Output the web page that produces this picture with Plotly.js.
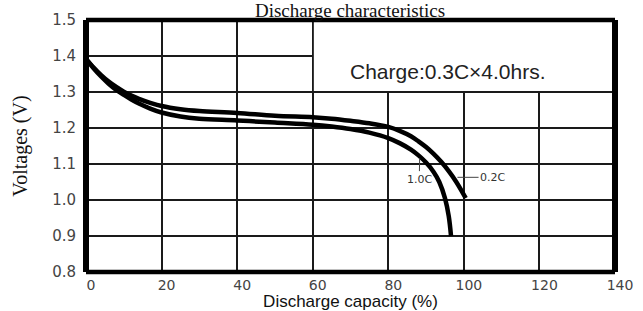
<!DOCTYPE html>
<html>
<head>
<meta charset="utf-8">
<script src="https://cdn.plot.ly/plotly-3.0.1.min.js"></script>
<style>
  html, body { margin: 0; padding: 0; background: #fff; }
  #chart { width: 643px; height: 311px; }
</style>
</head>
<body>
<div id="chart"></div>
<script>
// Discharge capacity (%) and cell voltage (V)
const cap02C = [0, 2, 4, 6, 8, 10, 12, 14, 17, 20, 25, 30, 40, 50, 60, 65, 70, 75, 80, 83, 86, 88, 90, 92, 94, 96, 98, 100.5];
const volt02C = [1.392, 1.368, 1.347, 1.329, 1.314, 1.301, 1.290, 1.281, 1.270, 1.261, 1.252, 1.247, 1.242, 1.234, 1.230, 1.226, 1.220, 1.213, 1.203, 1.192, 1.177, 1.163, 1.147, 1.128, 1.106, 1.080, 1.050, 1.005];

const cap10C = [0, 2, 4, 6, 8, 10, 12, 14, 17, 20, 25, 30, 40, 50, 60, 65, 70, 75, 80, 83, 86, 88, 90, 92, 93.5, 95, 96, 96.6];
const volt10C = [1.392, 1.366, 1.343, 1.323, 1.306, 1.292, 1.279, 1.268, 1.254, 1.243, 1.232, 1.226, 1.221, 1.215, 1.209, 1.204, 1.197, 1.187, 1.172, 1.158, 1.140, 1.124, 1.104, 1.078, 1.050, 1.005, 0.955, 0.900];

const xTicks = [0, 20, 40, 60, 80, 100, 120, 140];
const yTicks = [0.8, 0.9, 1.0, 1.1, 1.2, 1.3, 1.4, 1.5];
const yTickText = ['0.8', '0.9', '1.0', '1.1', '1.2', '1.3', '1.4', '1.5'];

const seriesNames = ['0.2C', '1.0C'];
const chargeNote = 'Charge:0.3C×4.0hrs.';

const traces = [
  { x: cap02C, y: volt02C, name: seriesNames[0], mode: 'lines',
    line: { color: '#000', width: 4.5, shape: 'spline', smoothing: 1 } },
  { x: cap10C, y: volt10C, name: seriesNames[1], mode: 'lines',
    line: { color: '#000', width: 4.5, shape: 'spline', smoothing: 1 } }
];

const frameLine = (x0, y0, x1, y1, w) => ({
  type: 'line', xref: 'paper', yref: 'paper', x0, y0, x1, y1,
  line: { color: '#000', width: w }, layer: 'above'
});

const layout = {
  width: 643, height: 311,
  margin: { l: 86, r: 28, t: 20, b: 39, pad: 0 },
  paper_bgcolor: '#fff', plot_bgcolor: '#fff',
  showlegend: false,
  title: {
    text: 'Discharge characteristics',
    font: { family: 'Liberation Serif, Times New Roman, serif', size: 19, color: '#111' },
    xref: 'container', yref: 'container', x: 350 / 643, xanchor: 'center',
    y: 1 - 16.5 / 311, yanchor: 'bottom'
  },
  xaxis: {
    range: [0, 140], tickvals: xTicks, ticktext: xTicks.map(String),
    showgrid: true, gridcolor: '#1a1a1a', gridwidth: 2, zeroline: false,
    showline: false, ticks: '', ticklabelstandoff: 3, ticklabelshift: 5,
    tickfont: { family: 'DejaVu Sans, Verdana, sans-serif', size: 14, color: '#444' },
    title: { text: 'Discharge capacity (%)', standoff: 3,
      font: { family: 'Liberation Sans, Arial, sans-serif', size: 17, color: '#111' } },
    fixedrange: true
  },
  yaxis: {
    range: [0.8, 1.5], tickvals: yTicks, ticktext: yTickText,
    showgrid: true, gridcolor: '#1a1a1a', gridwidth: 1.5, zeroline: false,
    showline: false, ticks: '', ticklabelstandoff: 9,
    tickfont: { family: 'DejaVu Sans, Verdana, sans-serif', size: 15, color: '#444' },
    title: { text: 'Voltages (V)', standoff: 19,
      font: { family: 'Liberation Serif, Times New Roman, serif', size: 20, color: '#111' } },
    fixedrange: true
  },
  shapes: [
    { type: 'rect', xref: 'x', yref: 'y', x0: 60.3, x1: 140, y0: 1.303, y1: 1.5,
      fillcolor: '#fff', line: { width: 0 }, layer: 'above' },
    frameLine(0, 0, 0, 1, 6),
    frameLine(1, 0, 1, 1, 6),
    frameLine(0, 1, 1, 1, 4.5),
    frameLine(0, 0, 1, 0, 4.5)
  ],
  annotations: [
    { x: 95.7, y: 1.356, xref: 'x', yref: 'y', text: chargeNote, showarrow: false,
      font: { family: 'Liberation Sans, Arial, sans-serif', size: 21, color: '#222' } },
    { x: 88.3, y: 1.116, xref: 'x', yref: 'y', ax: 88.2, ay: 1.058, axref: 'x', ayref: 'y',
      text: seriesNames[1], showarrow: true, arrowhead: 0, arrowwidth: 1, arrowcolor: '#444',
      font: { family: 'DejaVu Sans, Verdana, sans-serif', size: 11, color: '#333' } },
    { x: 98.3, y: 1.063, xref: 'x', yref: 'y', ax: 107.6, ay: 1.063, axref: 'x', ayref: 'y',
      text: seriesNames[0], showarrow: true, arrowhead: 0, arrowwidth: 1, arrowcolor: '#444',
      font: { family: 'DejaVu Sans, Verdana, sans-serif', size: 11, color: '#333' } }
  ]
};

Plotly.newPlot('chart', traces, layout, { displayModeBar: false, staticPlot: true });
</script>
</body>
</html>
